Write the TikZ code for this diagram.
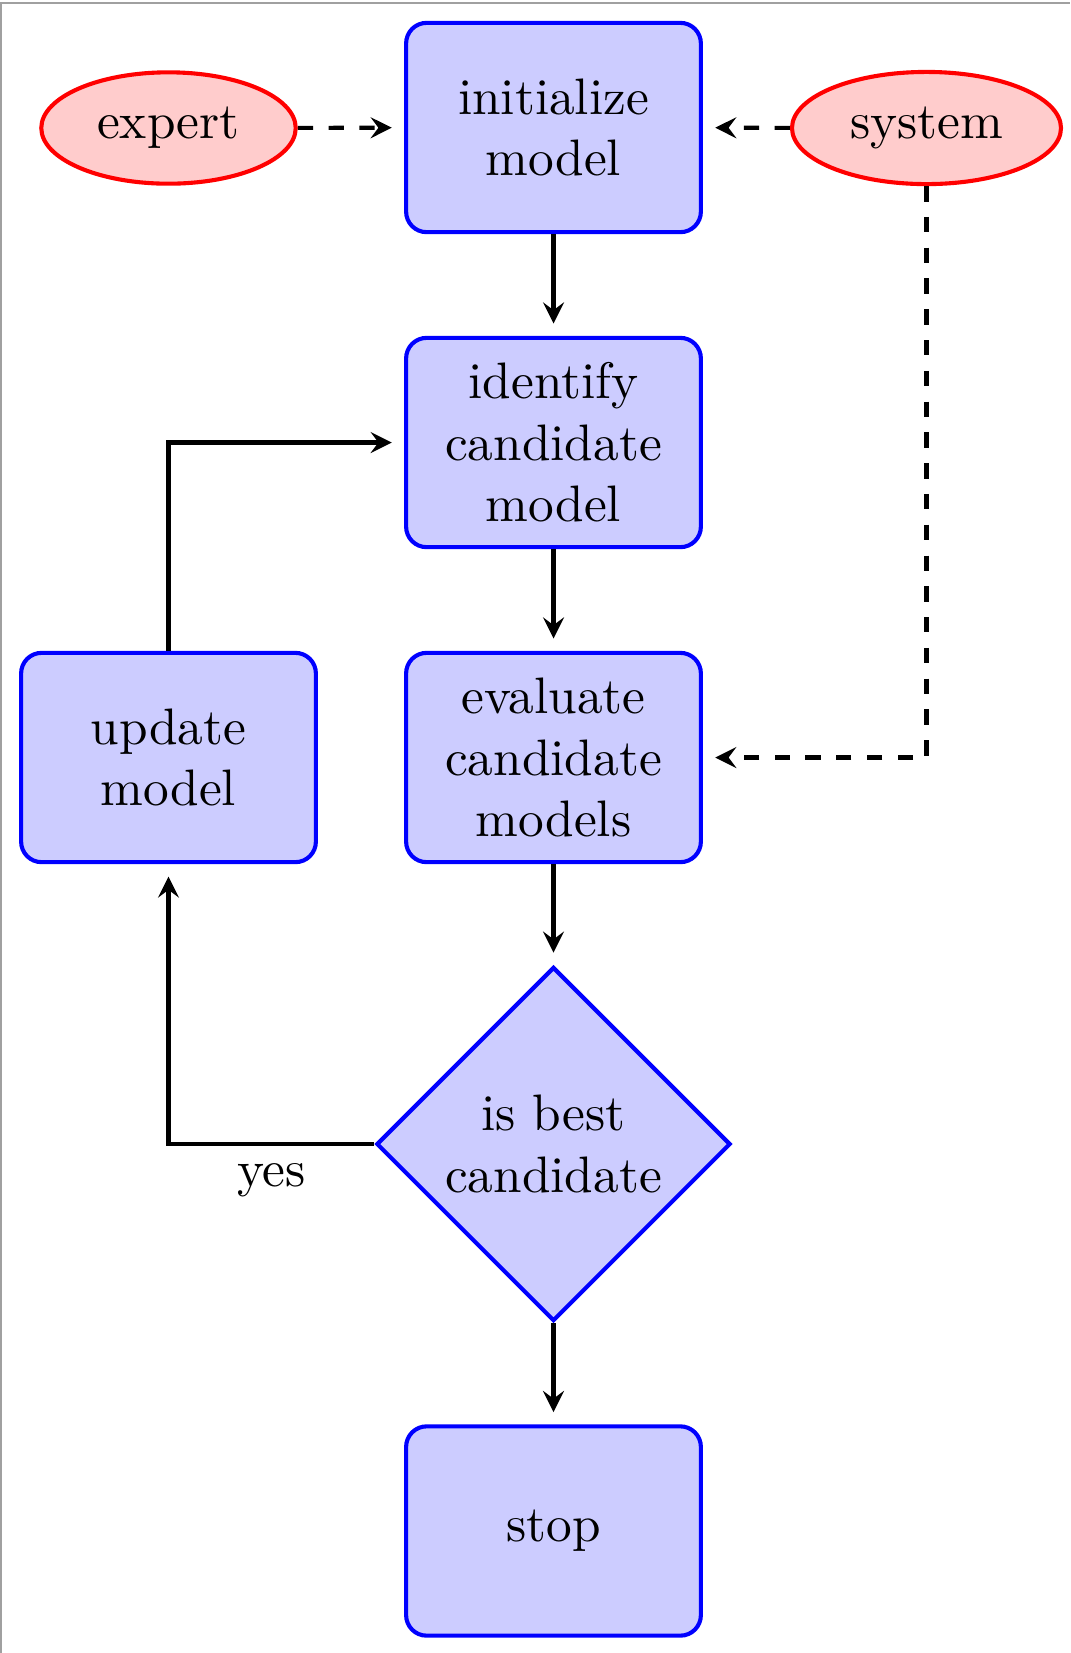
\documentclass[tikz,border=0pt]{standalone}
\usetikzlibrary{shapes.geometric,arrows}
\definecolor{framegray}{RGB}{160,160,160}
\tikzset{
  block/.style={rectangle, draw=blue, thick, fill=blue!20, text width=5em, align=center, inner xsep=3.73pt, rounded corners=4pt, minimum height=40.8pt},
  decision/.style={diamond, draw=blue, thick, fill=blue!20, text width=4.5em, align=center, inner sep=0pt, minimum size=69pt},
  cloud/.style={ellipse, draw=red, thick, fill=red!20, inner sep=3.63pt},
  conn/.style={draw, thick, -stealth, shorten >=2.4pt},
  dconn/.style={conn, dashed},
}
\begin{document}
\begin{tikzpicture}[x=0.19493pt,y=-0.19493pt]
\useasboundingbox (0,0) rectangle (1070,1653);
\draw[framegray, line width=0.55pt] (1,1653) -- (1,3) -- (1070,3);
\node[block] (init) at (553.5,127.5) {initialize model};
\node[cloud] (expert) at (168.5,128) {expert};
\node[cloud] (system) at (926.5,128) {system};
\node[block] (identify) at (553.5,442.5) {identify candidate model};
\node[block] (evaluate) at (553.5,757.5) {evaluate candidate models};
\node[block] (update) at (168.5,757.5) {update model};
\node[decision] (decide) at (553.5,1144) {is best candidate};
\node[block] (stop) at (553.5,1531) {stop};
\path[conn] (init) -- (identify);
\path[conn] (identify) -- (evaluate);
\path[conn] (evaluate) -- (decide);
\path[conn] (decide) -| node[near start, below] {yes} (update);
\path[conn] (update) |- (identify);
\path[conn] (decide) -- (stop);
\path[dconn] (expert) -- (init);
\path[dconn] (system) -- (init);
\path[dconn] (system) |- (evaluate);
\end{tikzpicture}
\end{document}
